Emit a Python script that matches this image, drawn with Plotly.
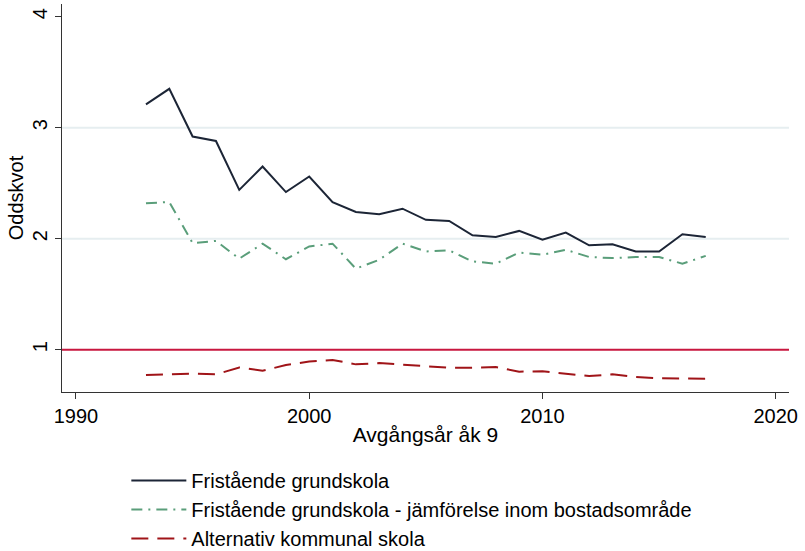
import plotly.graph_objects as go

years = list(range(1993, 2018))
fristaende = [3.21, 3.35, 2.92, 2.88, 2.44, 2.65, 2.42, 2.56, 2.33, 2.24, 2.22, 2.27,
              2.17, 2.16, 2.03, 2.015, 2.07, 1.99, 2.055, 1.94, 1.95, 1.885, 1.885, 2.04, 2.015]
fristaende_bostad = [2.32, 2.33, 1.96, 1.98, 1.82, 1.955, 1.815, 1.93, 1.955, 1.73, 1.81, 1.955,
                     1.885, 1.895, 1.795, 1.775, 1.875, 1.855, 1.9, 1.835, 1.825, 1.835, 1.835, 1.775, 1.845]
alternativ = [0.772, 0.775, 0.784, 0.778, 0.84, 0.81, 0.862, 0.893, 0.908, 0.868, 0.88, 0.865,
              0.85, 0.837, 0.838, 0.844, 0.802, 0.805, 0.784, 0.763, 0.778, 0.754, 0.742, 0.739, 0.739]
series_names = ["Fristående grundskola",
                "Fristående grundskola - jämförelse inom bostadsområde",
                "Alternativ kommunal skola"]
x_ticks = [1990, 2000, 2010, 2020]
y_ticks = [1, 2, 3, 4]
grid_levels = [2, 3]
reference_level = 1

FONT = "Liberation Sans, Arial, sans-serif"

fig = go.Figure()
fig.add_trace(go.Scatter(x=years, y=fristaende, mode="lines", name=series_names[0],
                         line=dict(color="#1c2536", width=2)))
fig.add_trace(go.Scatter(x=years, y=fristaende_bostad, mode="lines", name=series_names[1],
                         line=dict(color="#5a9e7a", width=2, dash="11px,6px,2px,6px")))
fig.add_trace(go.Scatter(x=years, y=alternativ, mode="lines", name=series_names[2],
                         line=dict(color="#a01418", width=2, dash="17px,9px")))

for g in grid_levels:
    fig.add_shape(type="line", xref="paper", yref="y", x0=0, x1=1, y0=g, y1=g,
                  line=dict(color="#e6eef0", width=2), layer="below")
fig.add_shape(type="line", xref="paper", yref="y", x0=0, x1=1,
              y0=reference_level, y1=reference_level,
              line=dict(color="#c8173f", width=2), layer="above")

fig.update_layout(
    width=805, height=551,
    margin=dict(l=62, r=16, t=4, b=159, autoexpand=False),
    paper_bgcolor="white", plot_bgcolor="white",
    font=dict(family=FONT, size=20, color="black"),
    showlegend=True,
    legend=dict(x=0.0885, y=-0.178, xanchor="left", yanchor="top",
                font=dict(size=20), itemwidth=55, tracegroupgap=0,
                bgcolor="rgba(0,0,0,0)"),
    xaxis=dict(range=[1989.4, 2020.57], tickvals=x_ticks, showgrid=False, zeroline=False,
               showline=True, linecolor="#333333", linewidth=1, automargin=False,
               ticks="outside", ticklen=6, tickcolor="#333333", tickwidth=1,
               tickfont=dict(size=20),
               title=dict(text="Avgångsår åk 9", font=dict(size=21), standoff=1)),
    yaxis=dict(range=[0.619, 4.114], tickvals=y_ticks, showgrid=False, zeroline=False,
               showline=True, linecolor="#333333", linewidth=1, automargin=True,
               ticks="outside", ticklen=6, tickcolor="#333333", tickwidth=1,
               tickangle=-90, tickfont=dict(size=20),
               title=dict(text="Oddskvot", font=dict(size=20), standoff=0)),
)

fig.write_html("out.html", config={"displayModeBar": False},
               post_script="document.body.style.margin='0';document.body.style.padding='0';")
